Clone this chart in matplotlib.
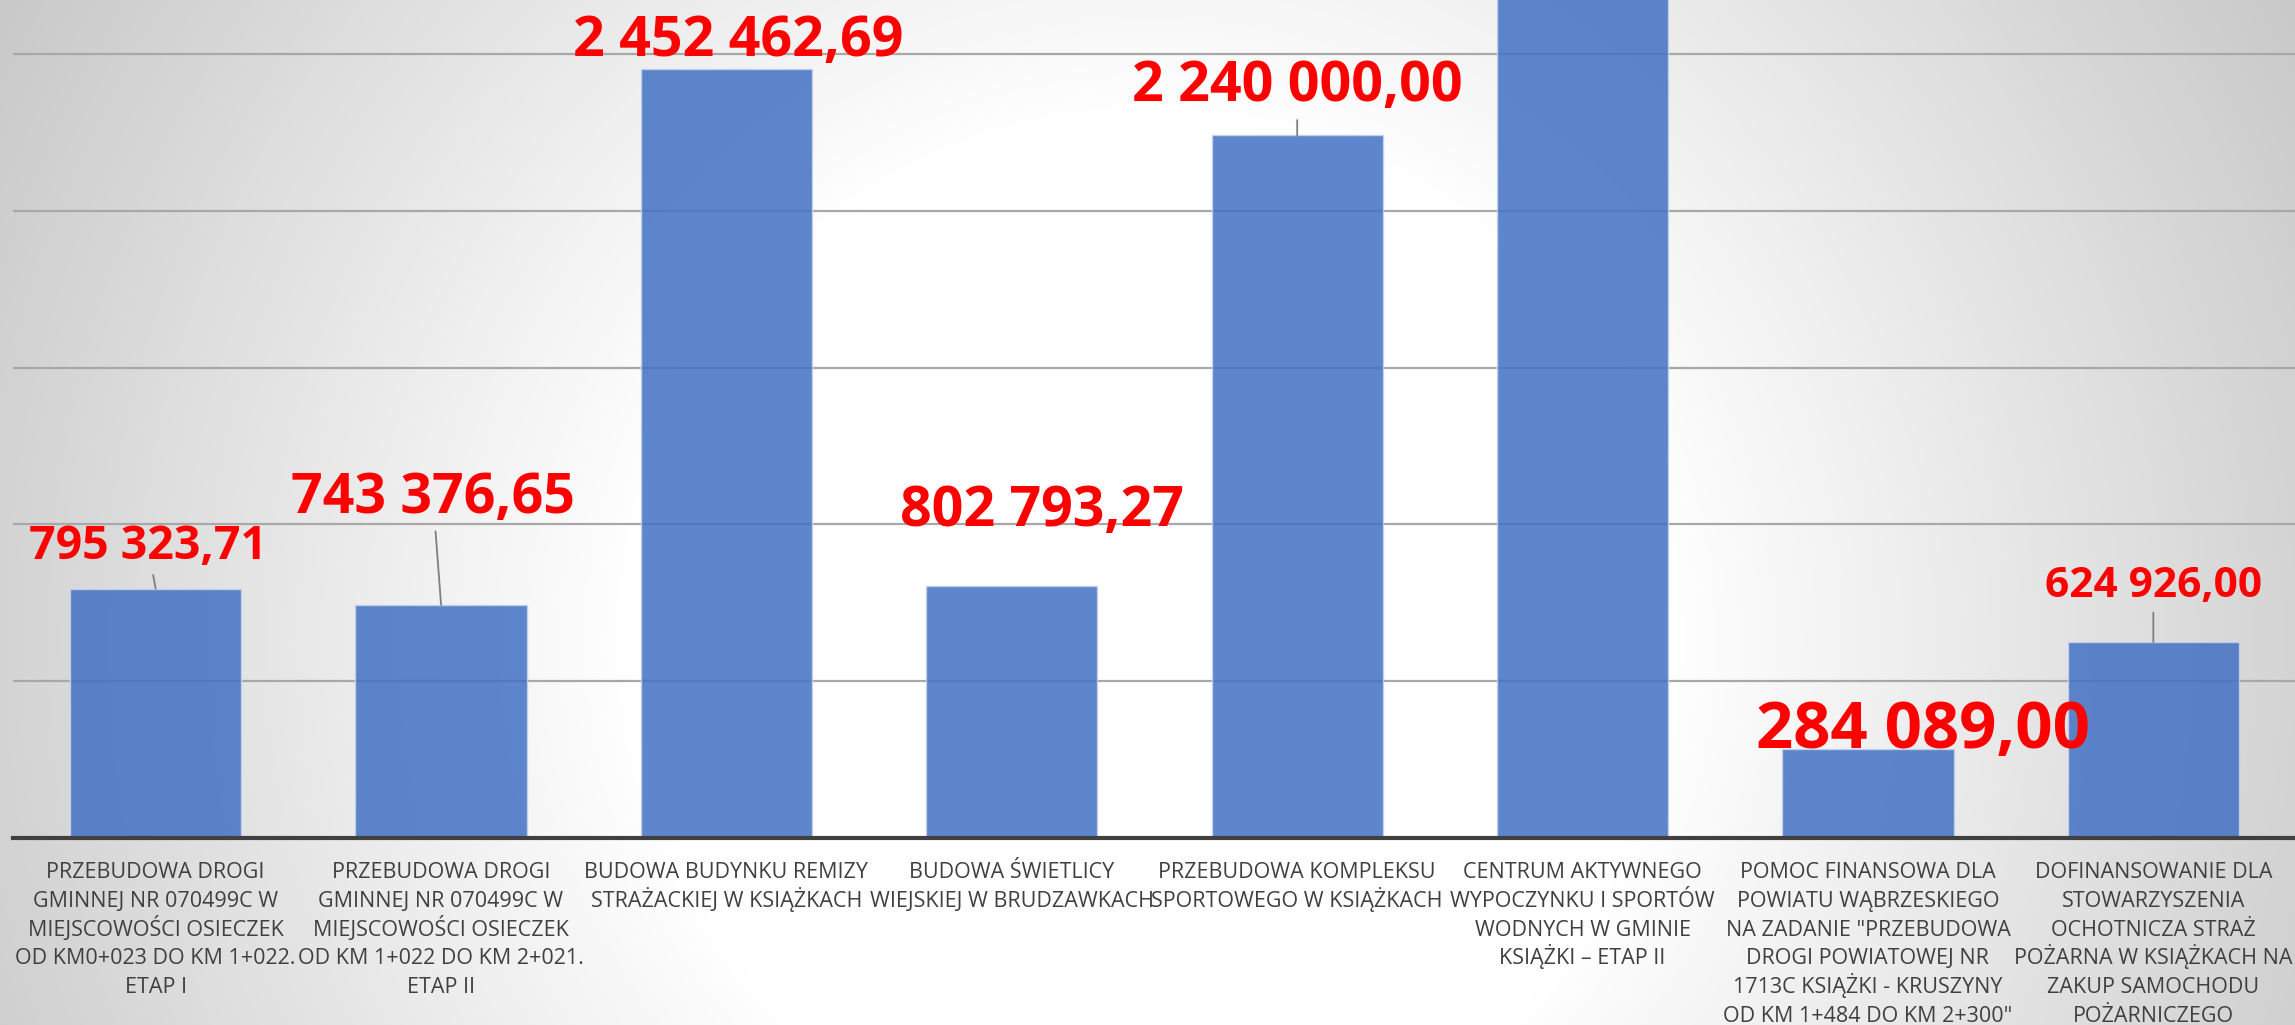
import numpy as np
import matplotlib
matplotlib.use('Agg')
import matplotlib.pyplot as plt

# ---------------- data ----------------
categories = [
    'PRZEBUDOWA DROGI\nGMINNEJ NR 070499C W\nMIEJSCOWOŚCI OSIECZEK\nOD KM0+023 DO KM 1+022.\nETAP I',
    'PRZEBUDOWA DROGI\nGMINNEJ NR 070499C W\nMIEJSCOWOŚCI OSIECZEK\nOD KM 1+022 DO KM 2+021.\nETAP II',
    'BUDOWA BUDYNKU REMIZY\nSTRAŻACKIEJ W KSIĄŻKACH',
    'BUDOWA ŚWIETLICY\nWIEJSKIEJ W BRUDZAWKACH',
    'PRZEBUDOWA KOMPLEKSU\nSPORTOWEGO W KSIĄŻKACH',
    'CENTRUM AKTYWNEGO\nWYPOCZYNKU I SPORTÓW\nWODNYCH W GMINIE\nKSIĄŻKI – ETAP II',
    'POMOC FINANSOWA DLA\nPOWIATU WĄBRZESKIEGO\nNA ZADANIE "PRZEBUDOWA\nDROGI POWIATOWEJ NR\n1713C KSIĄŻKI - KRUSZYNY\nOD KM 1+484 DO KM 2+300"',
    'DOFINANSOWANIE DLA\nSTOWARZYSZENIA\nOCHOTNICZA STRAŻ\nPOŻARNA W KSIĄŻKACH NA\nZAKUP SAMOCHODU\nPOŻARNICZEGO',
]
values = [795323.71, 743376.65, 2452462.69, 802793.27, 2240000.00, 3000000.00, 284089.00, 624926.00]
value_labels = ['795 323,71', '743 376,65', '2 452 462,69', '802 793,27',
                '2 240 000,00', '', '284 089,00', '624 926,00']

# ---------------- styles ----------------
label_sizes = [33.5, 40, 40, 40, 40, 40, 47, 30.5]
label_offsets = [(-8, 30), (-8, 92), (12, 13), (30, 60), (0, 34), (0, 30), (55, 1), (0, 45)]
leaders = [True, True, False, False, True, False, False, True]
FONT = ['Open Sans', 'DejaVu Sans']

W, H = 2295, 1025
fig = plt.figure(figsize=(W / 100, H / 100), dpi=100)

# radial gradient background
bg = fig.add_axes([0, 0, 1, 1], zorder=-10)
yy, xx = np.mgrid[0:H, 0:W]
r = np.hypot(xx - 1150, (yy - 640) * 1.0)
g = 1.0 - 0.21 * np.clip((r - 520) / 780, 0, 1)
bg.imshow(np.dstack([g, g, g]), aspect='auto', extent=[0, 1, 0, 1], origin='upper')
bg.axis('off')

ax = fig.add_axes([13 / W, 187 / H, 2283 / W, 1 - 187 / H])
ax.patch.set_alpha(0)

x = np.arange(len(categories))
ax.bar(x, values, width=0.6, color='#4472C4', alpha=0.86,
       edgecolor='#C5D3EE', linewidth=1.0, zorder=2)

ax.set_xlim(-0.5, len(categories) - 0.5)
ax.set_ylim(0, 2.672e6)
ax.set_yticks(np.arange(0, 2.6e6, 5e5))
ax.yaxis.grid(True, color='#A8A8A8', linewidth=1.6, zorder=1)
ax.set_axisbelow(True)
ax.tick_params(axis='y', left=False, labelleft=False)
for s in ['top', 'right', 'left']:
    ax.spines[s].set_visible(False)
ax.spines['bottom'].set_color('#404040')
ax.spines['bottom'].set_linewidth(3)
ax.spines['bottom'].set_zorder(3)

# category labels: one text per line for even line spacing
ax.set_xticks(x)
ax.tick_params(axis='x', bottom=False, labelbottom=False)
for i, cat in enumerate(categories):
    for j, line in enumerate(cat.split('\n')):
        ax.annotate(line, xy=(i, 0), xycoords=('data', 'axes fraction'),
                    xytext=(0, -40 - 28.8 * j), textcoords='offset pixels',
                    ha='center', va='baseline', fontsize=15.5,
                    color='#404040', family=FONT, annotation_clip=False)

for i, (v, lab) in enumerate(zip(values, value_labels)):
    if not lab:
        continue
    dx, dy = label_offsets[i]
    kw = {}
    if leaders[i]:
        kw['arrowprops'] = dict(arrowstyle='-', color='#7F7F7F', lw=1.3,
                                shrinkA=2, shrinkB=0)
    ax.annotate(lab, xy=(i, v), xytext=(dx, dy), textcoords='offset pixels',
                ha='center', va='baseline', fontsize=label_sizes[i],
                fontweight='bold', color='#FF0000',
                family=FONT, zorder=5,
                annotation_clip=False, **kw)

fig.savefig('out.png', dpi=100)
